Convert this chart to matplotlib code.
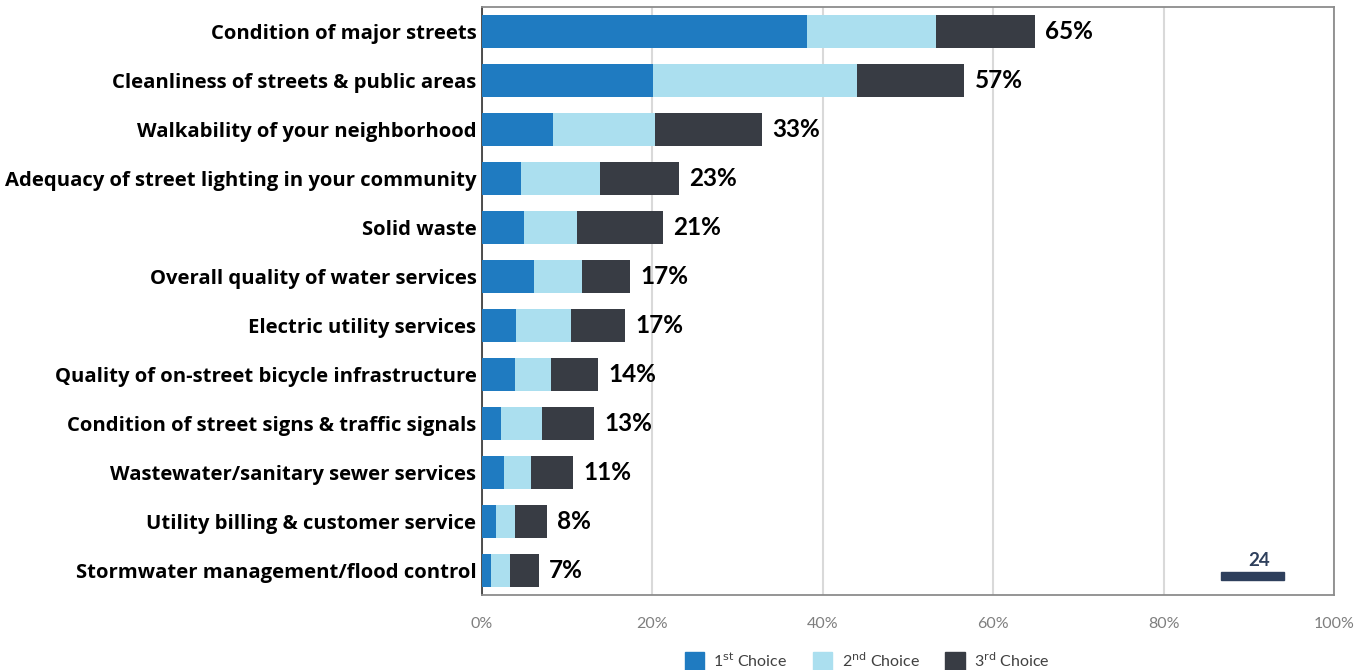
import matplotlib.pyplot as plt
from matplotlib.patches import Rectangle, Patch

items = [
    "Condition of major streets",
    "Cleanliness of streets & public areas",
    "Walkability of your neighborhood",
    "Adequacy of street lighting in your community",
    "Solid waste",
    "Overall quality of water services",
    "Electric utility services",
    "Quality of on-street bicycle infrastructure",
    "Condition of street signs & traffic signals",
    "Wastewater/sanitary sewer services",
    "Utility billing & customer service",
    "Stormwater management/flood control",
]
first = [38.1, 20.1, 8.3, 4.6, 4.9, 6.1, 4.0, 3.9, 2.2, 2.6, 1.7, 1.1]
second = [15.2, 23.9, 12.0, 9.2, 6.2, 5.6, 6.4, 4.2, 4.8, 3.1, 2.2, 2.2]
third = [11.6, 12.6, 12.6, 9.3, 10.1, 5.7, 6.4, 5.5, 6.2, 5.0, 3.7, 3.4]
series_names = ["1$^{\\mathrm{st}}$ Choice", "2$^{\\mathrm{nd}}$ Choice", "3$^{\\mathrm{rd}}$ Choice"]
colors = ["#1F7BC1", "#ABDFEF", "#383C44"]
page_no = "24"

plt.rcParams['font.family'] = ['Lato', 'DejaVu Sans']

fig = plt.figure(figsize=(13.7, 6.7), dpi=100)
ax = fig.add_axes([0.3518, 0.112, 0.9737 - 0.3518, 0.9896 - 0.112])

y = list(range(len(items)))
left = [0] * len(items)
for vals, c in zip([first, second, third], colors):
    ax.barh(y, vals, left=left, height=0.67, color=c, zorder=3)
    left = [l + v for l, v in zip(left, vals)]

for yi, tot in zip(y, left):
    ax.text(tot + 1.2, yi, f"{round(tot)}%", va='center', ha='left',
            fontsize=17.5, fontweight='bold', color='black')

ax.set_xlim(0, 100)
ax.set_ylim(len(items) - 0.5, -0.5)
ax.set_yticks(y)
ax.set_yticklabels(items, fontsize=14.6, fontweight='bold', family=['Open Sans', 'DejaVu Sans'])
ax.set_xticks([0, 20, 40, 60, 80, 100])
ax.set_xticklabels(["0%", "20%", "40%", "60%", "80%", "100%"], fontsize=11.5, color='#7F7F7F')
ax.tick_params(axis='y', length=0, pad=4)
ax.tick_params(axis='x', length=0, pad=16)
ax.grid(axis='x', color='#D9D9D9', linewidth=1.5, zorder=0)
for s in ['top', 'right', 'bottom']:
    ax.spines[s].set_color('#8C8C8C')
    ax.spines[s].set_linewidth(1.3)
ax.spines['left'].set_color('#404040')
ax.spines['left'].set_linewidth(1.3)

# page number
fig.text(0.9193, 0.151, page_no, ha='center', va='bottom', fontsize=13.5,
         fontweight='bold', color='#2E3F5C')
fig.add_artist(Rectangle((0.8912, 0.1343), 0.046, 0.0119, transform=fig.transFigure,
                         color='#2E3F5C'))

handles = [Patch(color=c) for c in colors]
fig.legend(handles, series_names, loc='lower center', bbox_to_anchor=(0.633, -0.025),
           ncol=3, frameon=False, fontsize=11.5, handlelength=1.2, handleheight=1.6,
           columnspacing=1.6, handletextpad=0.6, labelcolor='#404040')

fig.savefig("out.png", dpi=100)
